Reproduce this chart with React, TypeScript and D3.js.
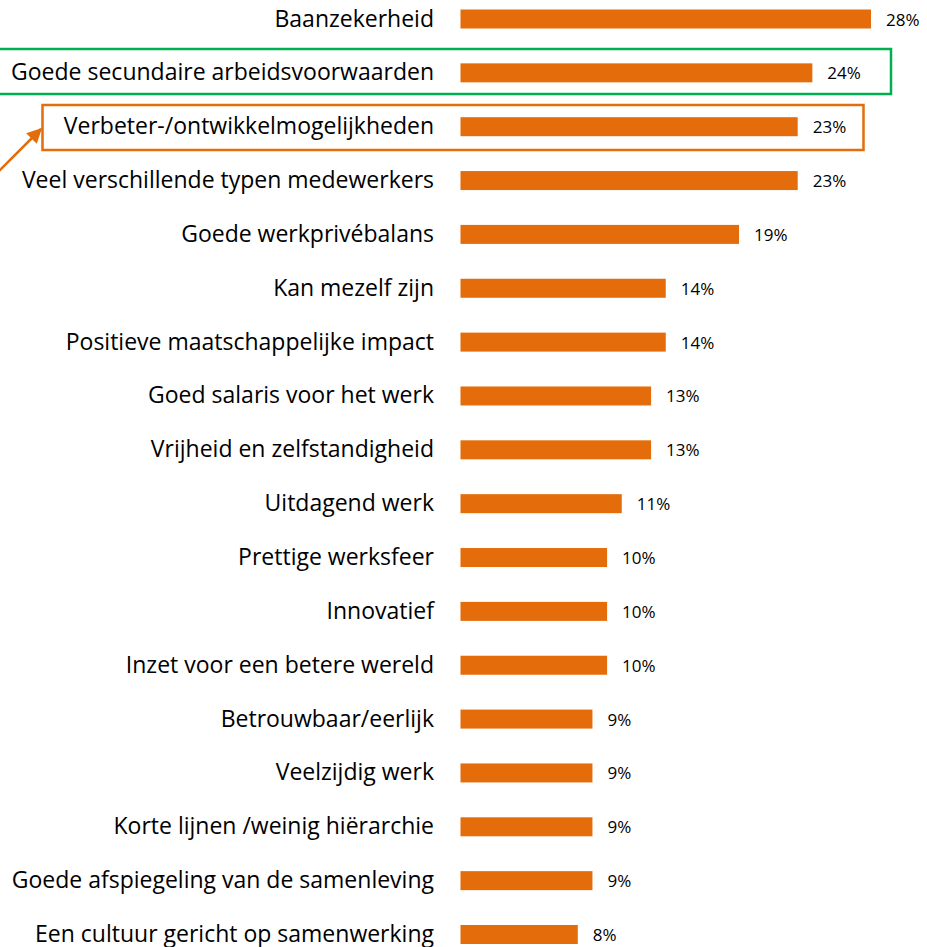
import React, { useEffect, useRef } from 'react';
import * as d3 from 'd3';

const categories = [
  'Baanzekerheid',
  'Goede secundaire arbeidsvoorwaarden',
  'Verbeter-/ontwikkelmogelijkheden',
  'Veel verschillende typen medewerkers',
  'Goede werkprivébalans',
  'Kan mezelf zijn',
  'Positieve maatschappelijke impact',
  'Goed salaris voor het werk',
  'Vrijheid en zelfstandigheid',
  'Uitdagend werk',
  'Prettige werksfeer',
  'Innovatief',
  'Inzet voor een betere wereld',
  'Betrouwbaar/eerlijk',
  'Veelzijdig werk',
  'Korte lijnen /weinig hiërarchie',
  'Goede afspiegeling van de samenleving',
  'Een cultuur gericht op samenwerking',
];
const values = [28, 24, 23, 23, 19, 14, 14, 13, 13, 11, 10, 10, 10, 9, 9, 9, 9, 8];

const BAR_COLOR = '#e46c0a';
const GREEN = '#00b050';

function App() {
  const svgRef = useRef<SVGSVGElement>(null);

  useEffect(() => {
    const width = 927;
    const height = 947;
    const svg = d3.select(svgRef.current).attr('width', width).attr('height', height);
    svg.selectAll('*').remove();

    const data = categories.map((c, i) => ({ cat: c, val: values[i] }));

    const x = d3.scaleLinear().domain([0, 28]).range([460.5, 871]);
    const y = d3.scalePoint<string>().domain(categories).range([19, 934.5]);
    const barH = 19;

    // highlight boxes
    svg
      .append('rect')
      .attr('x', -5)
      .attr('y', 49)
      .attr('width', 896)
      .attr('height', 45)
      .attr('fill', 'none')
      .attr('stroke', GREEN)
      .attr('stroke-width', 2.5);

    svg
      .append('rect')
      .attr('x', 42.5)
      .attr('y', 105)
      .attr('width', 821)
      .attr('height', 45)
      .attr('fill', 'none')
      .attr('stroke', BAR_COLOR)
      .attr('stroke-width', 2.5);

    // arrow
    svg
      .append('defs')
      .append('marker')
      .attr('id', 'arrowhead')
      .attr('viewBox', '0 0 10 10')
      .attr('refX', 9)
      .attr('refY', 5)
      .attr('markerWidth', 6)
      .attr('markerHeight', 6)
      .attr('orient', 'auto')
      .append('path')
      .attr('d', 'M0,0 L10,5 L0,10 z')
      .attr('fill', BAR_COLOR);

    svg
      .append('line')
      .attr('x1', -4)
      .attr('y1', 174)
      .attr('x2', 41)
      .attr('y2', 129)
      .attr('stroke', BAR_COLOR)
      .attr('stroke-width', 2.5)
      .attr('marker-end', 'url(#arrowhead)');

    // bars
    svg
      .append('g')
      .selectAll('rect')
      .data(data)
      .join('rect')
      .attr('x', x(0))
      .attr('y', (d) => (y(d.cat) as number) - barH / 2)
      .attr('width', (d) => x(d.val) - x(0))
      .attr('height', barH)
      .attr('fill', BAR_COLOR);

    // category labels
    svg
      .append('g')
      .selectAll('text')
      .data(data)
      .join('text')
      .attr('x', 434)
      .attr('y', (d) => (y(d.cat) as number) + 7.5)
      .attr('text-anchor', 'end')
      .attr('font-family', '"Open Sans", sans-serif')
      .attr('font-size', 23)
      .attr('fill', '#000')
      .text((d) => d.cat);

    // value labels
    svg
      .append('g')
      .selectAll('text')
      .data(data)
      .join('text')
      .attr('x', (d) => x(d.val) + 15)
      .attr('y', (d) => (y(d.cat) as number) + 6.5)
      .attr('font-family', '"Open Sans", sans-serif')
      .attr('font-size', 17)
      .attr('fill', '#000')
      .text((d) => `${d.val}%`);
  }, []);

  return (
    <div>
      <svg ref={svgRef} style={{ position: 'absolute', left: 0, top: 0, display: 'block' }} />
    </div>
  );
}

export default App;
